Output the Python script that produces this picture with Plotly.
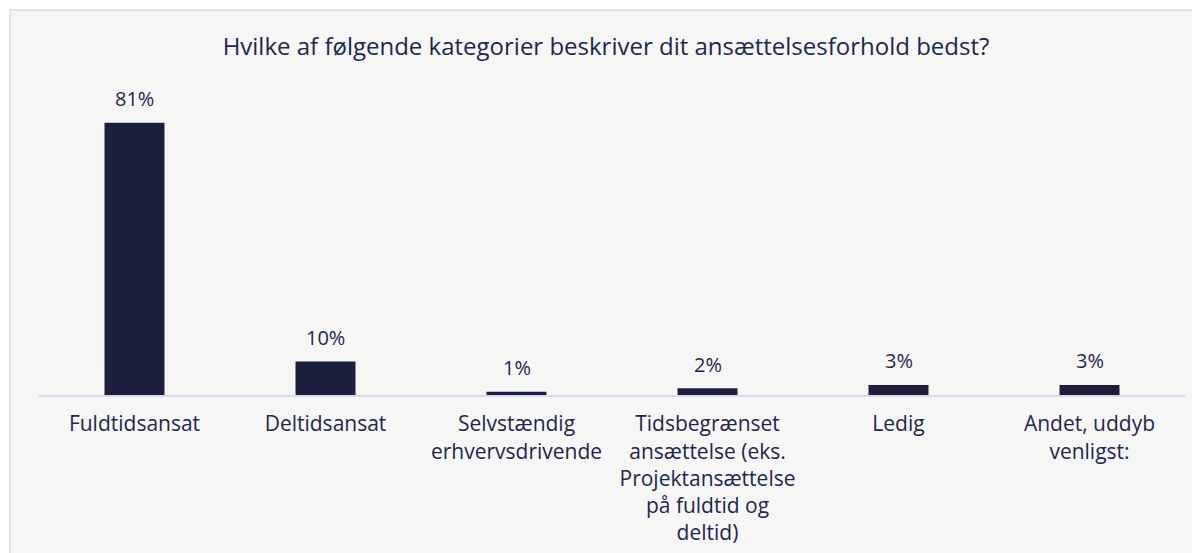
import plotly.graph_objects as go

categories = [
    "Fuldtidsansat",
    "Deltidsansat",
    "Selvstændig<br>erhvervsdrivende",
    "Tidsbegrænset<br>ansættelse (eks.<br>Projektansættelse<br>på fuldtid og<br>deltid)",
    "Ledig",
    "Andet, uddyb<br>venligst:",
]
values = [81, 10, 1, 2, 3, 3]
value_labels = ["81%", "10%", "1%", "2%", "3%", "3%"]
title_text = "Hvilke af følgende kategorier beskriver dit ansættelsesforhold bedst?"

# page has an 8px body margin, so figure coords = screen coords - 8
OFF = 8
W, H = 1192, 545
ML, MR, MT, MB = 39 - OFF, 15, 59 - OFF, 158
PW = W - ML - MR
PH = H - MT - MB

TEXT = "#1f2651"
BAR = "#1b1f3b"
FONT = "Open Sans"

fig = go.Figure()
fig.add_trace(go.Bar(
    x=categories, y=values, marker=dict(color=BAR, line=dict(width=0)),
    width=0.314, hoverinfo="skip",
))

for c, v, t in zip(categories, values, value_labels):
    fig.add_annotation(x=c, y=v, text=t, showarrow=False, yanchor="middle",
                       yshift=24, font=dict(family=FONT, size=20, color=TEXT))

def px_x(px):
    return (px - OFF - ML) / PW

def px_y(py):
    return (H - MB - (py - OFF)) / PH

fig.add_shape(type="rect", xref="paper", yref="paper",
              x0=px_x(10), x1=px_x(1260), y0=px_y(620), y1=px_y(10),
              fillcolor="#f6f6f5", line=dict(color="#d6daf2", width=1.5), layer="below")

fig.update_layout(
    width=W, height=H,
    margin=dict(l=ML, r=MR, t=MT, b=MB, autoexpand=False),
    paper_bgcolor="white", plot_bgcolor="rgba(0,0,0,0)",
    title=dict(text=title_text, x=(606 - OFF) / W, xanchor="center",
               y=1 - (47 - OFF) / H, yanchor="middle",
               yref="container", xref="container",
               font=dict(family=FONT, size=24, color=TEXT)),
    showlegend=False,
    font=dict(family=FONT, size=21, color=TEXT),
)
fig.update_xaxes(showline=True, linecolor="#d6daf2", linewidth=2, ticks="",
                 showgrid=False, tickfont=dict(family=FONT, size=21, color=TEXT),
                 ticklabelstandoff=9, automargin=False)
fig.update_yaxes(range=[0, 100], visible=False, showgrid=False, zeroline=False,
                 automargin=False)

fig.write_html("out.html")
